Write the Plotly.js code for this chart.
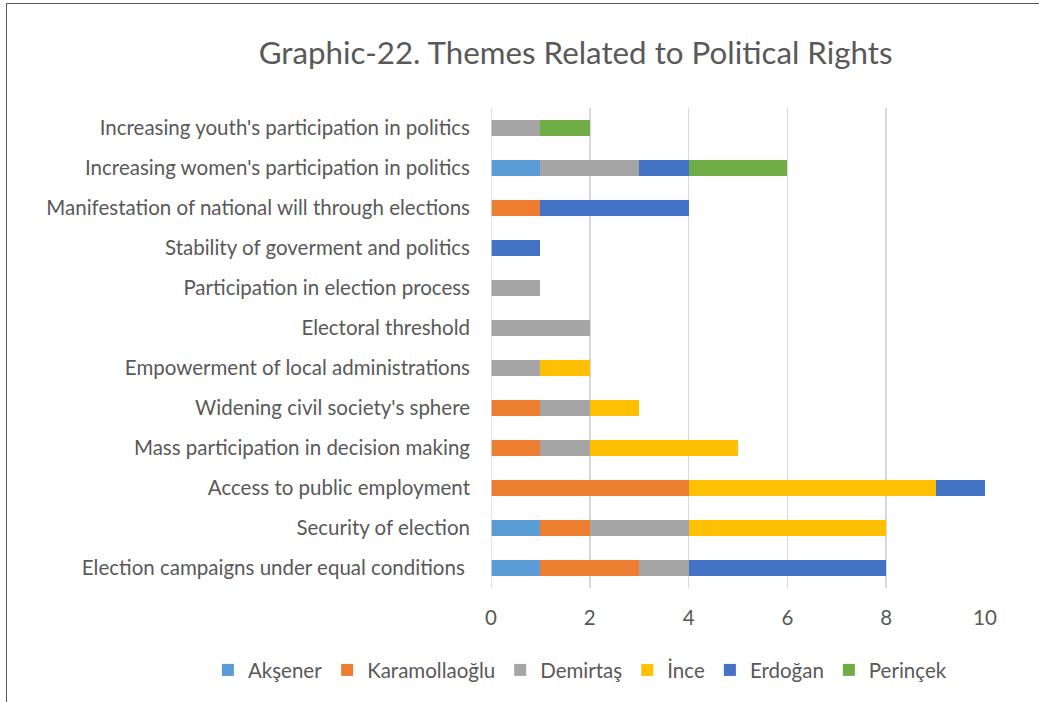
<!DOCTYPE html>
<html>
<head>
<meta charset="utf-8">
<script src="https://cdn.plot.ly/plotly-3.0.1.min.js"></script>
<style>
  html, body { margin: 0; padding: 0; background: #ffffff; overflow: hidden; }
  #frame { position: absolute; left: 6px; top: 3px; width: 1200px; height: 900px; border: 1.5px solid #595959; box-sizing: border-box; }
  #chart { position: absolute; left: 0; top: 0; width: 1039px; height: 702px; }
</style>
</head>
<body>
<div id="frame"></div>
<div id="chart"></div>
<script>
const categories = [
  "Election campaigns under equal conditions ",
  "Security of election",
  "Access to public employment",
  "Mass participation in decision making",
  "Widening civil society's sphere",
  "Empowerment of local administrations",
  "Electoral threshold",
  "Participation in election process",
  "Stability of goverment and politics",
  "Manifestation of national will through elections",
  "Increasing women's participation in politics",
  "Increasing youth's participation in politics"
];
const seriesNames = ["Akşener", "Karamollaoğlu", "Demirtaş", "İnce", "Erdoğan", "Perinçek"];
const aksener      = [1, 1, 0, 0, 0, 0, 0, 0, 0, 0, 1, 0];
const karamollaoglu= [2, 1, 4, 1, 1, 0, 0, 0, 0, 1, 0, 0];
const demirtas     = [1, 2, 0, 1, 1, 1, 2, 1, 0, 0, 2, 1];
const ince         = [0, 4, 5, 3, 1, 1, 0, 0, 0, 0, 0, 0];
const erdogan      = [4, 0, 1, 0, 0, 0, 0, 0, 1, 3, 1, 0];
const perincek     = [0, 0, 0, 0, 0, 0, 0, 0, 0, 0, 2, 1];
const colors = ["#5B9BD5", "#ED7D31", "#A5A5A5", "#FFC000", "#4472C4", "#70AD47"];
const xTicks = [0, 2, 4, 6, 8, 10];

const values = [aksener, karamollaoglu, demirtas, ince, erdogan, perincek];
const FONT = "Lato, 'Open Sans', sans-serif";

const traces = seriesNames.map((name, i) => ({
  type: "bar",
  orientation: "h",
  name: name,
  y: categories,
  x: values[i],
  marker: { color: colors[i], line: { width: 0 } },
  hoverinfo: "x+y+name"
}));

const layout = {
  width: 1039,
  height: 702,
  paper_bgcolor: "rgba(0,0,0,0)",
  plot_bgcolor: "rgba(0,0,0,0)",
  barmode: "stack",
  bargap: 0.6,
  margin: { l: 491, r: 54, t: 108, b: 114, autoexpand: false },
  title: {
    text: "Graphic-22. Themes Related to Political Rights",
    font: { family: FONT, size: 31.3, color: "#595959" },
    x: 0.554, xanchor: "center", xref: "container",
    y: 0.925, yanchor: "middle", yref: "container"
  },
  xaxis: {
    range: [0, 10],
    tickvals: xTicks,
    ticktext: xTicks.map(String),
    showgrid: true,
    gridcolor: "#D9D9D9",
    gridwidth: 1.5,
    zeroline: false,
    showline: false,
    ticks: "",
    ticklabelstandoff: 15,
    tickfont: { family: FONT, size: 20.5, color: "#595959" },
    fixedrange: true
  },
  yaxis: {
    type: "category",
    categoryorder: "array",
    categoryarray: categories,
    range: [-0.5, 11.5],
    showgrid: false,
    zeroline: false,
    showline: false,
    ticks: "",
    ticklabelstandoff: 20,
    tickfont: { family: FONT, size: 20.5, color: "#595959" },
    fixedrange: true
  },
  shapes: [{
    type: "line", xref: "x", yref: "paper",
    x0: 0, x1: 0, y0: 0, y1: 1,
    line: { color: "#D9D9D9", width: 1.5 }
  }],
  showlegend: true,
  legend: {
    orientation: "h",
    xref: "paper", yref: "paper",
    x: -0.573, xanchor: "left",
    y: -0.171, yanchor: "middle",
    font: { family: FONT, size: 20.5, color: "#595959" },
    traceorder: "normal",
    itemwidth: 30,
    tracegroupgap: 0
  }
};

Plotly.newPlot("chart", traces, layout, { displayModeBar: false, staticPlot: true });
</script>
</body>
</html>
